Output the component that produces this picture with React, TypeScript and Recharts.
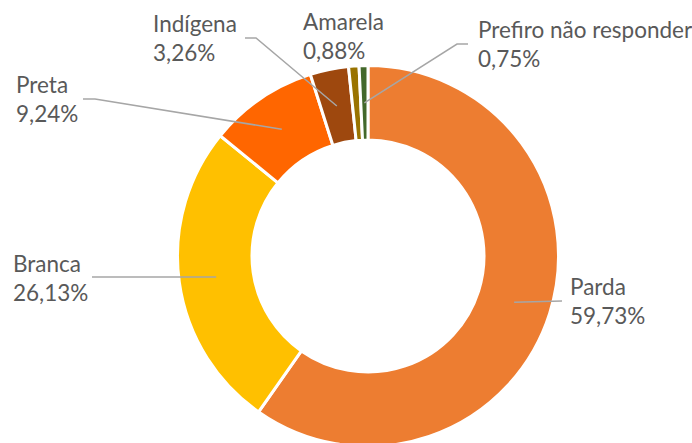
import React from 'react';
import { PieChart, Pie, Cell } from 'recharts';

const categories = ['Parda', 'Branca', 'Preta', 'Indígena', 'Amarela', 'Prefiro não responder'];
const shares = [59.73, 26.13, 9.24, 3.26, 0.88, 0.75];

const COLORS = ['#ED7D31', '#FFC000', '#FF6600', '#9E480E', '#997300', '#43682B'];

// where each label's text sits, and the bend of its leader line (null = no line)
const LABEL_TEXT = [
  { x: 570, y: 295 },
  { x: 13, y: 272 },
  { x: 16, y: 93 },
  { x: 153, y: 32 },
  { x: 303, y: 30 },
  { x: 478, y: 38 },
];
const LABEL_LINE: (number[][] | null)[] = [
  [[562, 301]],
  [[92, 277]],
  [[95, 99], [83, 99]],
  [[256, 38], [245, 38]],
  null,
  [[457, 44], [468, 44]],
];

const chartData = categories.map((name, i) => ({ name, value: shares[i] }));

const RADIAN = Math.PI / 180;

const renderLabel = (props: any) => {
  const { cx, cy, midAngle, innerRadius, outerRadius, index, value } = props;
  const r = (innerRadius + outerRadius) / 2;
  const ax = cx + r * Math.cos(-midAngle * RADIAN);
  const ay = cy + r * Math.sin(-midAngle * RADIAN);
  const t = LABEL_TEXT[index];
  const bends = LABEL_LINE[index];
  const pts = bends ? [[ax, ay], ...bends].map((p) => p.join(',')).join(' ') : null;
  return (
    <g key={`lbl-${index}`}>
      {pts && <polyline points={pts} fill="none" stroke="#A6A6A6" strokeWidth={1.5} />}
      <text x={t.x} y={t.y} fill="#595959" fontSize={22.5} fontFamily="Lato, sans-serif">
        <tspan x={t.x} y={t.y}>{categories[index]}</tspan>
        <tspan x={t.x} y={t.y + 29}>{value.toFixed(2).replace('.', ',')}%</tspan>
      </text>
    </g>
  );
};

export default function App() {
  return (
    <div style={{ position: 'absolute', left: 0, top: 0, background: '#fff' }}>
      <PieChart width={692} height={443} margin={{ top: 0, right: 0, bottom: 0, left: 0 }}>
        <Pie
          data={chartData}
          dataKey="value"
          nameKey="name"
          cx={368}
          cy={256}
          innerRadius={116}
          outerRadius={190.5}
          startAngle={90}
          endAngle={-270}
          stroke="#fff"
          strokeWidth={3}
          label={renderLabel}
          labelLine={false}
          isAnimationActive={false}
        >
          {chartData.map((entry, index) => (
            <Cell key={`cell-${index}`} fill={COLORS[index]} />
          ))}
        </Pie>
      </PieChart>
    </div>
  );
}
